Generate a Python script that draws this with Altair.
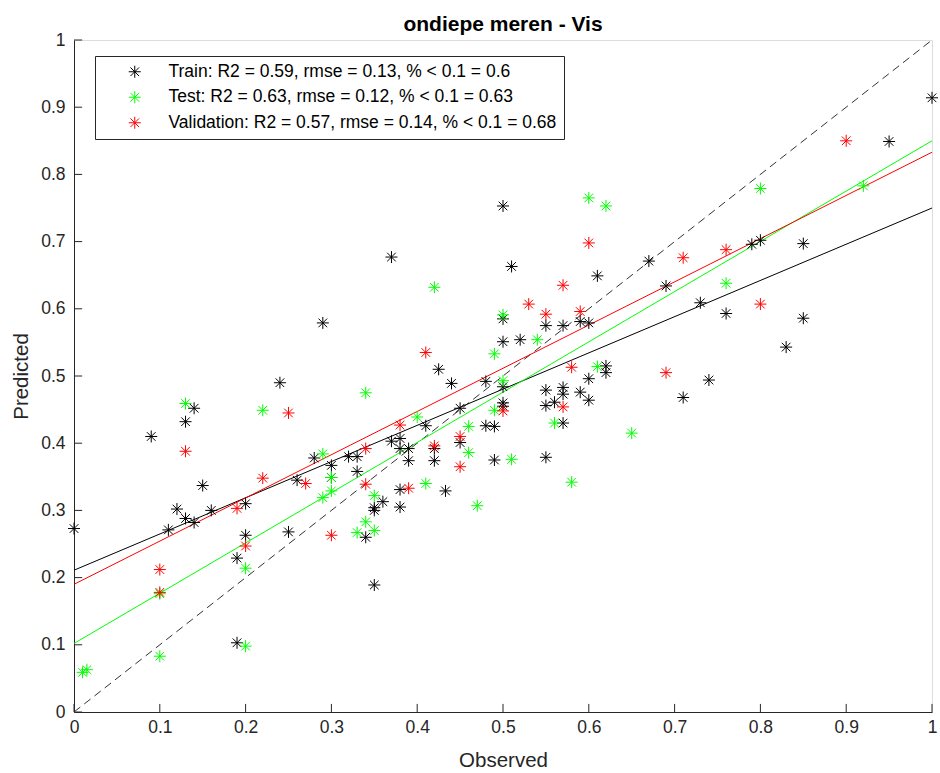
import altair as alt
import pandas as pd

# ---- data ----
train_x = [0.00, 0.09, 0.11, 0.12, 0.13, 0.13, 0.14, 0.14, 0.15, 0.16, 0.19, 0.19, 0.20, 0.20,
           0.24, 0.25, 0.26, 0.28, 0.29, 0.30, 0.30, 0.32, 0.33, 0.33, 0.34, 0.35, 0.35, 0.35,
           0.36, 0.37, 0.37, 0.38, 0.38, 0.38, 0.38, 0.39, 0.39, 0.41, 0.42, 0.42, 0.425, 0.433,
           0.44, 0.45, 0.45, 0.48, 0.48, 0.49, 0.49, 0.50, 0.50, 0.50, 0.50, 0.50, 0.50, 0.51,
           0.52, 0.55, 0.55, 0.55, 0.55, 0.56, 0.57, 0.57, 0.57, 0.57, 0.59, 0.59, 0.60, 0.60,
           0.60, 0.61, 0.62, 0.62, 0.67, 0.69, 0.71, 0.73, 0.74, 0.76, 0.79, 0.80, 0.83, 0.85,
           0.85, 0.95, 1.00]
train_y = [0.273, 0.410, 0.271, 0.302, 0.432, 0.288, 0.452, 0.282, 0.337, 0.300, 0.103, 0.229, 0.263, 0.310,
           0.490, 0.268, 0.345, 0.378, 0.579, 0.367, 0.349, 0.380, 0.380, 0.358, 0.260, 0.304, 0.300, 0.189,
           0.313, 0.677, 0.403, 0.407, 0.392, 0.331, 0.305, 0.392, 0.374, 0.426, 0.392, 0.374, 0.510, 0.329,
           0.489, 0.452, 0.401, 0.492, 0.426, 0.425, 0.375, 0.753, 0.585, 0.551, 0.484, 0.460, 0.455, 0.663,
           0.554, 0.575, 0.479, 0.456, 0.379, 0.461, 0.575, 0.483, 0.473, 0.430, 0.581, 0.476, 0.579, 0.496,
           0.464, 0.649, 0.515, 0.505, 0.671, 0.634, 0.468, 0.609, 0.494, 0.593, 0.696, 0.702, 0.543, 0.697,
           0.586, 0.849, 0.914]

test_x = [0.010, 0.015, 0.10, 0.10, 0.13, 0.20, 0.20, 0.22, 0.29, 0.29, 0.30, 0.30, 0.33, 0.34,
          0.34, 0.35, 0.35, 0.40, 0.41, 0.42, 0.46, 0.46, 0.47, 0.49, 0.49, 0.50, 0.50, 0.51,
          0.54, 0.56, 0.58, 0.60, 0.61, 0.62, 0.65, 0.76, 0.80, 0.92]
test_y = [0.059, 0.063, 0.083, 0.176, 0.459, 0.214, 0.098, 0.449, 0.384, 0.319, 0.349, 0.329, 0.267, 0.283,
          0.475, 0.322, 0.270, 0.439, 0.340, 0.632, 0.425, 0.386, 0.307, 0.533, 0.449, 0.591, 0.493, 0.376,
          0.554, 0.430, 0.342, 0.765, 0.514, 0.753, 0.415, 0.638, 0.779, 0.783]

val_x = [0.10, 0.10, 0.13, 0.19, 0.20, 0.22, 0.25, 0.27, 0.30, 0.34, 0.34, 0.38, 0.39, 0.41,
         0.42, 0.45, 0.45, 0.50, 0.53, 0.55, 0.57, 0.57, 0.58, 0.59, 0.60, 0.69, 0.71, 0.76,
         0.80, 0.90]
val_y = [0.212, 0.178, 0.388, 0.303, 0.247, 0.348, 0.445, 0.340, 0.263, 0.392, 0.339, 0.427, 0.333, 0.535,
         0.396, 0.410, 0.365, 0.448, 0.607, 0.592, 0.635, 0.454, 0.513, 0.596, 0.698, 0.505, 0.676, 0.688,
         0.607, 0.850]

series_names = [
    "Train: R2 = 0.59, rmse = 0.13, % < 0.1 = 0.6",
    "Test: R2 = 0.63, rmse = 0.12, % < 0.1 = 0.63",
    "Validation: R2 = 0.57, rmse = 0.14, % < 0.1 = 0.68",
]
series_colors = ["#000000", "#00ff00", "#ff0000"]

# fitted lines (values at Observed = 0 and 1)
fit_x = [0.0, 1.0]
train_fit = [0.211, 0.750]
test_fit = [0.102, 0.850]
val_fit = [0.190, 0.833]
ident_y = [0.0, 1.0]

tick_values = [0, 0.1, 0.2, 0.3, 0.4, 0.5, 0.6, 0.7, 0.8, 0.9, 1.0]

TITLE = "ondiepe meren - Vis"
XLABEL = "Observed"
YLABEL = "Predicted"

# ---- tables ----
pts = pd.concat([
    pd.DataFrame({"obs": train_x, "pred": train_y, "set": series_names[0]}),
    pd.DataFrame({"obs": test_x, "pred": test_y, "set": series_names[1]}),
    pd.DataFrame({"obs": val_x, "pred": val_y, "set": series_names[2]}),
], ignore_index=True)

fits = pd.concat([
    pd.DataFrame({"obs": fit_x, "pred": f, "set": n})
    for f, n in zip([train_fit, test_fit, val_fit], series_names)
], ignore_index=True)

ident = pd.DataFrame({"obs": fit_x, "pred": ident_y})
ticks = pd.DataFrame({"v": tick_values})

FONT = "Liberation Sans"
AX = "#262626"
STAR = "M0,-1L0,1M-1,0L1,0M-0.72,-0.72L0.72,0.72M-0.72,0.72L0.72,-0.72"

xs = alt.Scale(domain=[0, 1], nice=False, zero=False)
ys = alt.Scale(domain=[0, 1], nice=False, zero=False)

color = alt.Color(
    "set:N",
    scale=alt.Scale(domain=series_names, range=series_colors),
    sort=series_names,
    legend=alt.Legend(
        title=None, orient="none", legendX=21, legendY=16,
        symbolType=STAR, symbolSize=144, symbolStrokeWidth=1,
        symbolOffset=24, labelOffset=25,
        labelFont=FONT, labelFontSize=17.5, labelColor="#000000", labelLimit=0,
        padding=7, rowPadding=6.5,
        strokeColor="#262626", fillColor="#ffffff",
    ),
)

xax = alt.Axis(values=tick_values, format="~g", ticks=False, grid=False,
               labelFont=FONT, labelFontSize=17.5, labelColor=AX, labelPadding=6,
               domainColor=AX, title=XLABEL, titleFont=FONT, titleFontSize=20.5,
               titleFontWeight="normal", titleColor=AX, titlePadding=15, labelFlush=False)
yax = alt.Axis(values=tick_values, format="~g", ticks=False, grid=False,
               labelFont=FONT, labelFontSize=17.5, labelColor=AX, labelPadding=9,
               domainColor=AX, title=YLABEL, titleFont=FONT, titleFontSize=20.5,
               titleFontWeight="normal", titleColor=AX, titlePadding=9, labelFlush=False)

identity = alt.Chart(ident).mark_line(color="#333333", strokeWidth=1, strokeDash=[8, 5]).encode(
    x=alt.X("obs:Q", scale=xs, axis=xax),
    y=alt.Y("pred:Q", scale=ys, axis=yax),
)

fitlines = alt.Chart(fits).mark_line(strokeWidth=1).encode(
    x=alt.X("obs:Q", scale=xs),
    y=alt.Y("pred:Q", scale=ys),
    stroke=alt.Stroke("set:N", scale=alt.Scale(domain=series_names, range=series_colors), legend=None),
    detail="set:N",
)

points = alt.Chart(pts).mark_point(shape=STAR, filled=False, size=144, strokeWidth=1, opacity=1).encode(
    x=alt.X("obs:Q", scale=xs),
    y=alt.Y("pred:Q", scale=ys),
    color=color,
)

xticks = alt.Chart(ticks).mark_rule(color=AX, strokeWidth=1).encode(
    x=alt.X("v:Q", scale=xs),
    y=alt.Y(datum=0, scale=ys),
    y2=alt.Y2(datum=0.012),
)
yticks = alt.Chart(ticks).mark_rule(color=AX, strokeWidth=1).encode(
    y=alt.Y("v:Q", scale=ys),
    x=alt.X(datum=0, scale=xs),
    x2=alt.X2(datum=0.0095),
)

chart = alt.layer(identity, fitlines, xticks, yticks, points).resolve_scale(
    color="independent", stroke="independent"
).properties(
    width=858, height=672,
    padding={"left": 74, "top": 40, "right": 8, "bottom": 61},
    autosize=alt.AutoSizeParams(type="none"),
    title=alt.Title(TITLE, font=FONT, fontSize=21, fontWeight="bold", color="#000000",
                    anchor="middle", offset=-4),
).configure_view(stroke=None).configure(background="#ffffff")

chart.save("out.html", embed_options={"renderer": "svg", "actions": False})
